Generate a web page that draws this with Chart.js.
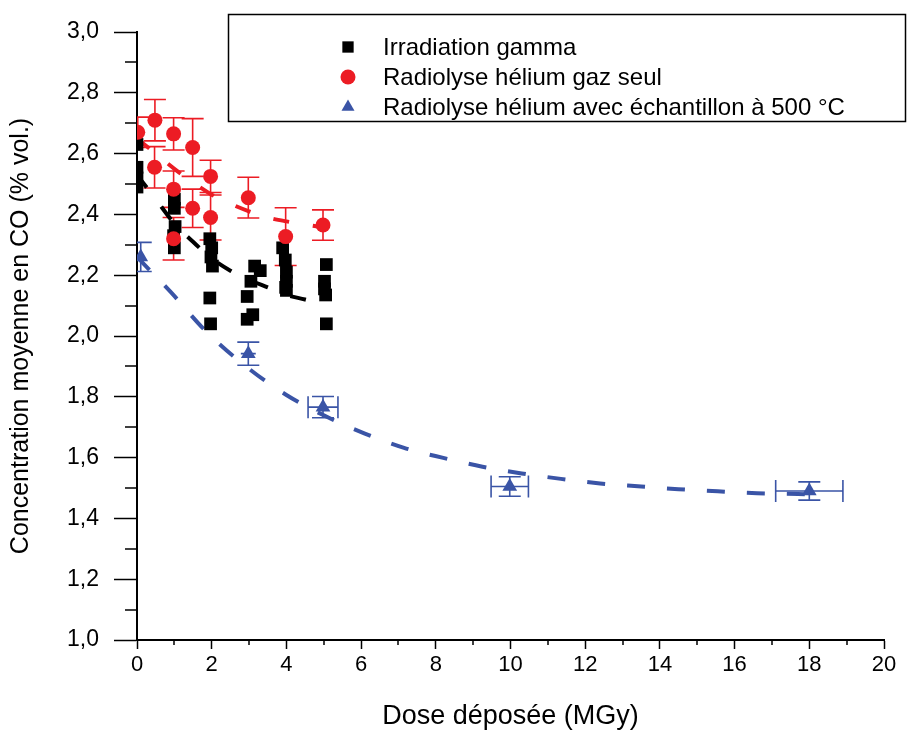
<!DOCTYPE html>
<html>
<head>
<meta charset="utf-8">
<script src="https://cdn.jsdelivr.net/npm/chart.js@4.4.0/dist/chart.umd.min.js"></script>
<style>
  html, body { margin: 0; padding: 0; background: #fff; }
</style>
</head>
<body>
<canvas id="myChart" width="910" height="733"></canvas>
<script>
// Irradiation gamma (black squares)
var gammaX = [0, 0, 0, 0,
  1.0, 1.0, 1.02, 0.98, 1.0,
  1.95, 2.0, 1.98, 2.02, 1.95, 1.97,
  3.15, 3.3, 3.05, 2.95, 2.95, 3.1,
  3.9, 3.97, 4.0, 4.0, 3.98, 4.0,
  5.07, 5.02, 5.02, 5.05, 5.07];
var gammaY = [2.63, 2.555, 2.52, 2.49,
  2.45, 2.42, 2.36, 2.33, 2.29,
  2.32, 2.29, 2.26, 2.23, 2.125, 2.04,
  2.23, 2.215, 2.18, 2.13, 2.055, 2.07,
  2.29, 2.25, 2.21, 2.18, 2.16, 2.15,
  2.235, 2.18, 2.155, 2.135, 2.04];

// Radiolyse hélium gaz seul (red circles)
var heliumX = [0.02, 0.48, 0.47, 0.98, 0.98, 0.98, 1.49, 1.49, 1.97, 1.97, 2.98, 3.98, 4.98];
var heliumY = [2.67, 2.71, 2.555, 2.665, 2.483, 2.32, 2.62, 2.42, 2.525, 2.39, 2.455, 2.327, 2.365];
var heliumErr = [0.05, 0.068, 0.068, 0.053, 0.06, 0.07, 0.095, 0.063, 0.053, 0.074, 0.067, 0.095, 0.05];

// Radiolyse hélium avec échantillon à 500 °C (blue triangles)
var sampleX = [0.1, 2.98, 4.98, 9.98, 18];
var sampleY = [2.26, 1.942, 1.766, 1.505, 1.49];
var sampleErrY = [0.048, 0.038, 0.035, 0.032, 0.03];
var sampleErrX = [0, 0.2, 0.4, 0.5, 0.9];

// dashed fit curves
var fitGammaX = [0, 0.5, 1, 1.5, 2, 2.5, 3, 3.5, 4, 4.5, 5.1];
var fitGammaY = [2.53, 2.45, 2.37, 2.31, 2.255, 2.215, 2.185, 2.16, 2.135, 2.12, 2.10];
var fitHeliumX = [0, 0.5, 1, 1.5, 2, 2.5, 3, 3.5, 4, 4.5, 5.1];
var fitHeliumY = [2.65, 2.60, 2.55, 2.505, 2.465, 2.435, 2.41, 2.39, 2.377, 2.367, 2.355];
var fitSampleX = [0, 0.9, 1.85, 2.95, 4, 5.15, 6.1, 7.15, 8.2, 9.25, 10.3, 11.35, 12.4, 13.5, 14.5, 15.55, 16.6, 17.7, 18];
var fitSampleY = [2.26, 2.145, 2.015, 1.897, 1.806, 1.73, 1.679, 1.632, 1.599, 1.57, 1.548, 1.53, 1.515, 1.505, 1.496, 1.489, 1.483, 1.48, 1.479];

var RED = 'rgb(236, 28, 36)';
var BLUE = 'rgb(58, 84, 166)';
var BLACK = '#000';
var FONT = 'Liberation Sans, Arial, sans-serif';

function pts(xs, ys) {
  return xs.map(function(x, i) { return { x: x, y: ys[i] }; });
}

function drawErrors(ctx, xs, ys, px, py, ex, ey, color) {
  var cap = 11;
  ctx.strokeStyle = color;
  ctx.lineWidth = 1.6;
  ctx.beginPath();
  for (var i = 0; i < px.length; i++) {
    var cx = xs.getPixelForValue(px[i]);
    var cy = ys.getPixelForValue(py[i]);
    if (ey[i]) {
      var t = ys.getPixelForValue(py[i] + ey[i]);
      var b = ys.getPixelForValue(py[i] - ey[i]);
      ctx.moveTo(cx, t); ctx.lineTo(cx, b);
      ctx.moveTo(cx - cap, t); ctx.lineTo(cx + cap, t);
      ctx.moveTo(cx - cap, b); ctx.lineTo(cx + cap, b);
    }
    if (ex && ex[i]) {
      var l = xs.getPixelForValue(px[i] - ex[i]);
      var r = xs.getPixelForValue(px[i] + ex[i]);
      var hc = ex[i] < 0.3 ? 0 : cap;
      ctx.moveTo(l, cy); ctx.lineTo(r, cy);
      if (hc) {
        ctx.moveTo(l, cy - hc); ctx.lineTo(l, cy + hc);
        ctx.moveTo(r, cy - hc); ctx.lineTo(r, cy + hc);
      }
    }
  }
  ctx.stroke();
}

var errorBars = {
  id: 'errorBars',
  beforeDatasetsDraw: function(chart) {
    var ctx = chart.ctx, a = chart.chartArea;
    var xs = chart.scales.x, ys = chart.scales.y;
    ctx.save();
    ctx.beginPath();
    ctx.rect(a.left, a.top, a.right - a.left, a.bottom - a.top);
    ctx.clip();
    drawErrors(ctx, xs, ys, heliumX, heliumY, null, heliumErr, RED);
    drawErrors(ctx, xs, ys, sampleX, sampleY, sampleErrX, sampleErrY, BLUE);
    ctx.restore();
  }
};

// minor ticks half way between the labelled ones
var minorTicks = {
  id: 'minorTicks',
  afterDraw: function(chart) {
    var ctx = chart.ctx, a = chart.chartArea;
    var xs = chart.scales.x, ys = chart.scales.y;
    ctx.save();
    ctx.strokeStyle = BLACK;
    ctx.lineWidth = 1.5;
    ctx.beginPath();
    for (var i = 0; i < xs.ticks.length - 1; i++) {
      var px = Math.round(xs.getPixelForValue((xs.ticks[i].value + xs.ticks[i + 1].value) / 2));
      ctx.moveTo(px, a.bottom); ctx.lineTo(px, a.bottom + 5);
    }
    for (var j = 0; j < ys.ticks.length - 1; j++) {
      var py = Math.round(ys.getPixelForValue((ys.ticks[j].value + ys.ticks[j + 1].value) / 2));
      ctx.moveTo(a.left, py); ctx.lineTo(a.left - 12, py);
    }
    ctx.stroke();
    ctx.restore();
  }
};

// framed legend sitting over the top of the plot
var boxLegend = {
  id: 'boxLegend',
  afterDraw: function(chart) {
    var ctx = chart.ctx;
    ctx.save();
    ctx.fillStyle = '#fff';
    ctx.strokeStyle = BLACK;
    ctx.lineWidth = 1.5;
    ctx.fillRect(228, 14, 678, 108);
    ctx.strokeRect(228.5, 14.5, 677, 107);
    ctx.font = '24px ' + FONT;
    ctx.textBaseline = 'middle';
    [0, 1, 2].forEach(function(k) {
      var ds = chart.data.datasets[k];
      var y = 47 + k * 30;
      ctx.fillStyle = ds.backgroundColor;
      ctx.strokeStyle = ds.backgroundColor;
      Chart.helpers.drawPoint(ctx, { pointStyle: ds.pointStyle, radius: ds.pointStyle === 'rect' ? 8 : 7.5, rotation: 0, borderWidth: 0 }, 348, y);
      ctx.fillStyle = BLACK;
      ctx.fillText(ds.label, 383, y + 1);
    });
    ctx.restore();
  }
};

var ctx = document.getElementById('myChart').getContext('2d');
var myChart = new Chart(ctx, {
  type: 'scatter',
  data: {
    datasets: [{
      label: 'Irradiation gamma',
      data: pts(gammaX, gammaY),
      pointStyle: 'rect',
      pointRadius: 9,
      backgroundColor: BLACK,
      borderColor: BLACK,
      borderWidth: 0,
      order: 2
    },
    {
      label: 'Radiolyse hélium gaz seul',
      data: pts(heliumX, heliumY),
      pointStyle: 'circle',
      pointRadius: 7.5,
      backgroundColor: RED,
      borderColor: RED,
      borderWidth: 0,
      order: 1
    },
    {
      label: 'Radiolyse hélium avec échantillon à 500 °C',
      data: pts(sampleX, sampleY),
      pointStyle: 'triangle',
      pointRadius: 8.5,
      backgroundColor: BLUE,
      borderColor: BLUE,
      borderWidth: 0,
      order: 0
    },
    {
      label: 'fit gamma',
      data: pts(fitGammaX, fitGammaY),
      showLine: true,
      pointRadius: 0,
      borderColor: BLACK,
      borderWidth: 4,
      borderDash: [16, 24],
      cubicInterpolationMode: 'monotone',
      order: 5
    },
    {
      label: 'fit helium',
      data: pts(fitHeliumX, fitHeliumY),
      showLine: true,
      pointRadius: 0,
      borderColor: RED,
      borderWidth: 4,
      borderDash: [16, 24],
      cubicInterpolationMode: 'monotone',
      order: 5
    },
    {
      label: 'fit sample',
      data: pts(fitSampleX, fitSampleY),
      showLine: true,
      pointRadius: 0,
      borderColor: BLUE,
      borderWidth: 4,
      borderDash: [18, 22],
      cubicInterpolationMode: 'monotone',
      order: 5
    }]
  },
  options: {
    responsive: false,
    animation: false,
    layout: { padding: { top: 32, right: 26, left: 0, bottom: 0 } },
    plugins: {
      legend: { display: false },
      tooltip: { enabled: false }
    },
    datasets: { scatter: { clip: 0 } },
    scales: {
      x: {
        type: 'linear',
        min: 0,
        max: 20,
        afterFit: function(scale) { scale.height = 93; },
        ticks: {
          stepSize: 2,
          autoSkip: false,
          maxRotation: 0,
          padding: 3,
          color: BLACK,
          font: { family: FONT, size: 22 }
        },
        grid: { drawOnChartArea: false, tickLength: 9, tickWidth: 1.5, tickColor: BLACK },
        border: { color: BLACK, width: 2 },
        title: {
          display: true,
          text: 'Dose déposée (MGy)',
          color: BLACK,
          font: { family: FONT, size: 27 },
          padding: { top: 0, bottom: 0 }
        }
      },
      y: {
        type: 'linear',
        min: 1,
        max: 3,
        afterFit: function(scale) { scale.width = 137; },
        ticks: {
          stepSize: 0.2,
          padding: 15,
          color: BLACK,
          font: { family: FONT, size: 23 },
          callback: function(v) { return v.toFixed(1).replace('.', ','); }
        },
        grid: { drawOnChartArea: false, tickLength: 23, tickWidth: 1.5, tickColor: BLACK },
        border: { color: BLACK, width: 2 },
        title: {
          display: true,
          text: 'Concentration moyenne en CO (% vol.)',
          color: BLACK,
          font: { family: FONT, size: 25 },
          padding: { top: 6, bottom: 0 }
        }
      }
    }
  },
  plugins: [errorBars, minorTicks, boxLegend]
});
</script>
</body>
</html>
